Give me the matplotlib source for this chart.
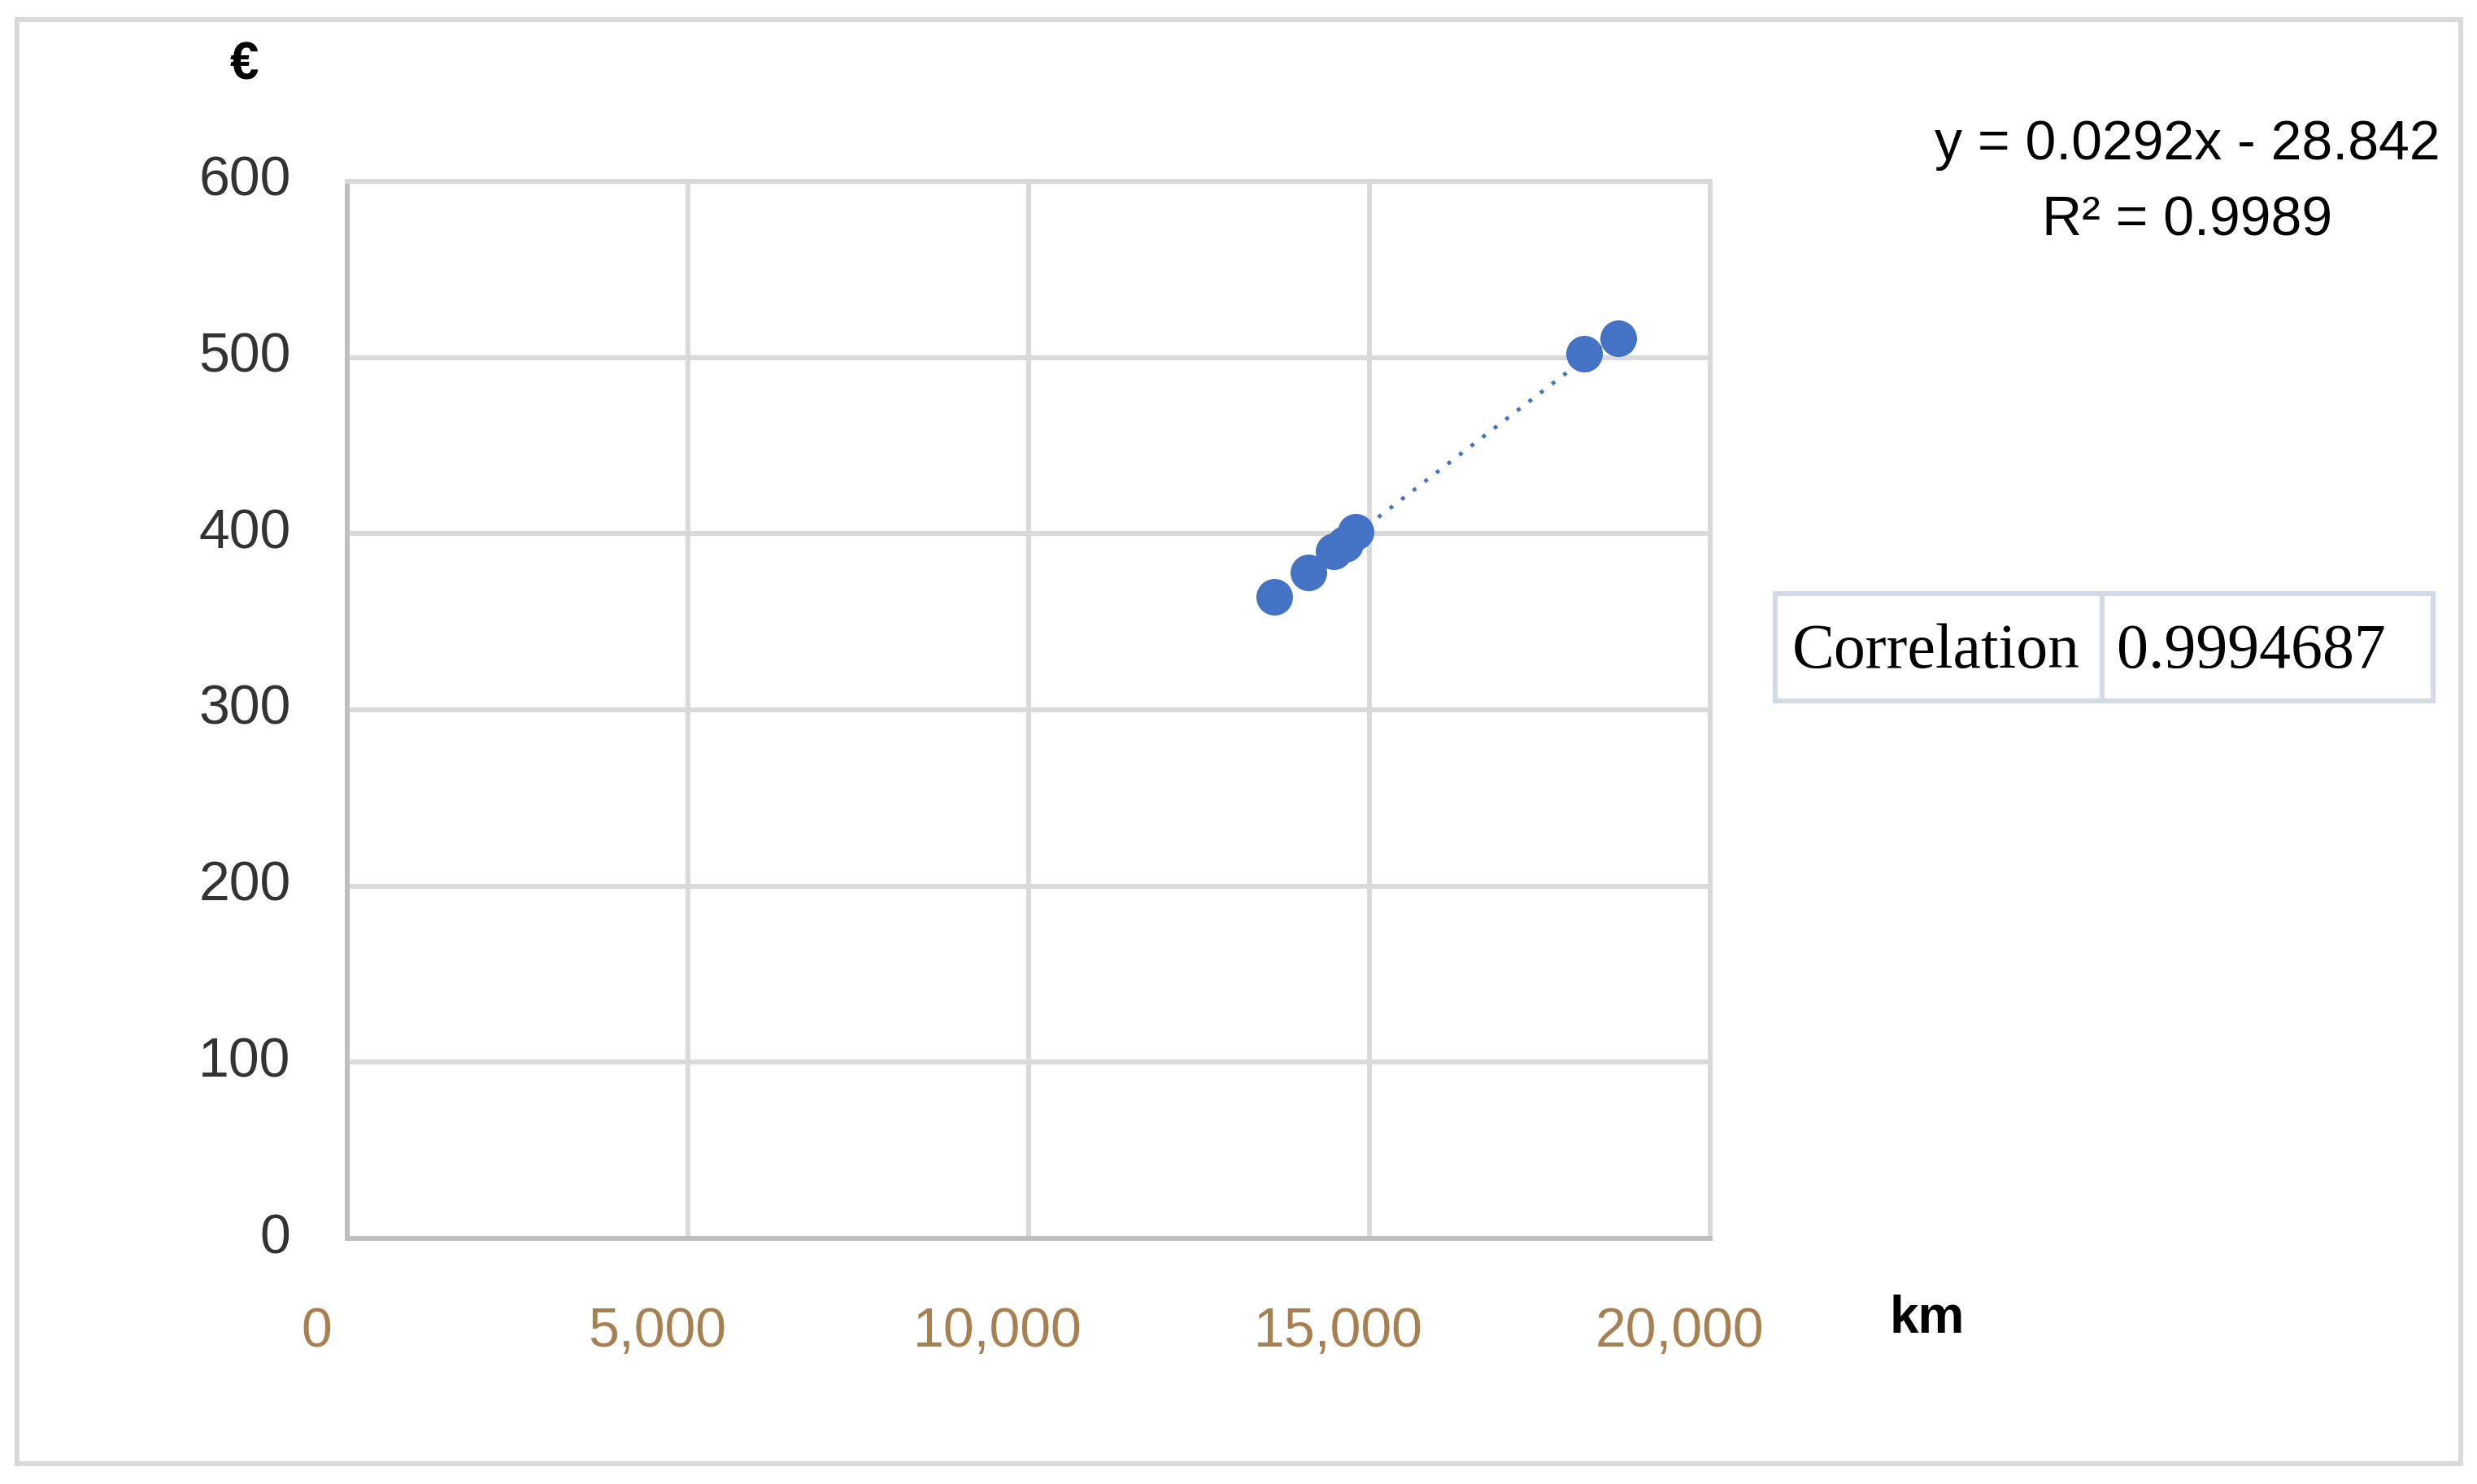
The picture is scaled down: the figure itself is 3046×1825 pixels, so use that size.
import numpy as np
import matplotlib
matplotlib.use("Agg")
import matplotlib.pyplot as plt
import matplotlib.transforms as mtransforms
from matplotlib.patches import Rectangle

# data (km driven vs. cost in euro)
km = [13600, 14100, 14480, 14640, 14800, 18150, 18650]
euro = [364, 378, 390, 394, 401, 502, 511]

x_ticks = [0, 5000, 10000, 15000, 20000]
y_ticks = [0, 100, 200, 300, 400, 500, 600]
eq_text = "y = 0.0292x - 28.842"
r2_text = "R\u00b2 = 0.9989"
corr_label = "Correlation"
corr_value = "0.9994687"

blue = "#4472C4"
grid_col = "#d9d9d9"
axis_col = "#bfbfbf"

plt.rcParams['font.family'] = ['Liberation Sans', 'DejaVu Sans']

fig = plt.figure(figsize=(30.46, 18.25), dpi=100)
ax = fig.add_axes([427 / 3046, 1 - 1523 / 1825, 1676 / 3046, 1300 / 1825])

# points and linear trendline
ax.scatter(km, euro, s=1050, color=blue, zorder=3, linewidths=0)
coef = np.polyfit(km, euro, 1)
xs = np.array([min(km), max(km)])
ax.plot(xs, np.polyval(coef, xs), color=blue, lw=3.4,
        linestyle=(0, (1.0, 2.8)), zorder=2)

ax.set_xlim(0, 20000)
ax.set_ylim(0, 600)
ax.set_xticks(x_ticks)
ax.set_yticks(y_ticks)
ax.set_xticklabels([f"{v:,}" for v in x_ticks])
ax.set_yticklabels([str(v) for v in y_ticks])
ax.grid(True, color=grid_col, lw=4.3)
ax.set_axisbelow(True)
ax.tick_params(length=0, labelsize=49)
ax.tick_params(axis='y', pad=50, labelcolor='#333333')
ax.tick_params(axis='x', pad=60, labelcolor='#a88050')

# x tick labels sit a bit to the left of their gridlines in the original,
# y tick labels a little above theirs
shift = mtransforms.ScaledTranslation(-38 / 100, 0, fig.dpi_scale_trans)
for lab in ax.get_xticklabels():
    lab.set_transform(lab.get_transform() + shift)
up = mtransforms.ScaledTranslation(0, 7 / 100, fig.dpi_scale_trans)
for lab in ax.get_yticklabels():
    lab.set_transform(lab.get_transform() + up)

for side in ['top', 'right']:
    ax.spines[side].set_color(grid_col)
    ax.spines[side].set_linewidth(4.3)
for side in ['left', 'bottom']:
    ax.spines[side].set_color(axis_col)
    ax.spines[side].set_linewidth(4.3)

# axis titles
fig.text(300 / 3046, 1 - 80 / 1825, "\u20ac", fontsize=46, fontweight='bold',
         ha='center', va='center')
fig.text(2370 / 3046, 1 - 1622 / 1825, "km", fontsize=46, fontweight='bold',
         ha='center', va='center')

# trendline equation
fig.text(2690 / 3046, 1 - 178 / 1825, eq_text, fontsize=49, ha='center', va='center')
fig.text(2690 / 3046, 1 - 272 / 1825, r2_text, fontsize=49, ha='center', va='center')

# correlation box
box_col = "#d3dae6"
fig.patches.append(Rectangle((2183 / 3046, 1 - 862 / 1825), 809 / 3046, 132 / 1825,
                             transform=fig.transFigure, fill=False,
                             edgecolor=box_col, lw=4.3))
fig.add_artist(plt.Line2D([2585 / 3046, 2585 / 3046], [1 - 862 / 1825, 1 - 730 / 1825],
                          transform=fig.transFigure, color=box_col, lw=4.3))
fig.text(2204 / 3046, 1 - 802 / 1825, corr_label, fontsize=56, ha='left', va='center',
         family=['Liberation Serif', 'DejaVu Serif'])
fig.text(2603 / 3046, 1 - 802 / 1825, corr_value, fontsize=56, ha='left', va='center',
         family=['Liberation Serif', 'DejaVu Serif'])

# outer frame
fig.patches.append(Rectangle((21 / 3046, 1 - 1800 / 1825), 3005 / 3046, 1776 / 1825,
                             transform=fig.transFigure, fill=False,
                             edgecolor=grid_col, lw=4.3))

fig.savefig("out.png", dpi=100, facecolor='white')
